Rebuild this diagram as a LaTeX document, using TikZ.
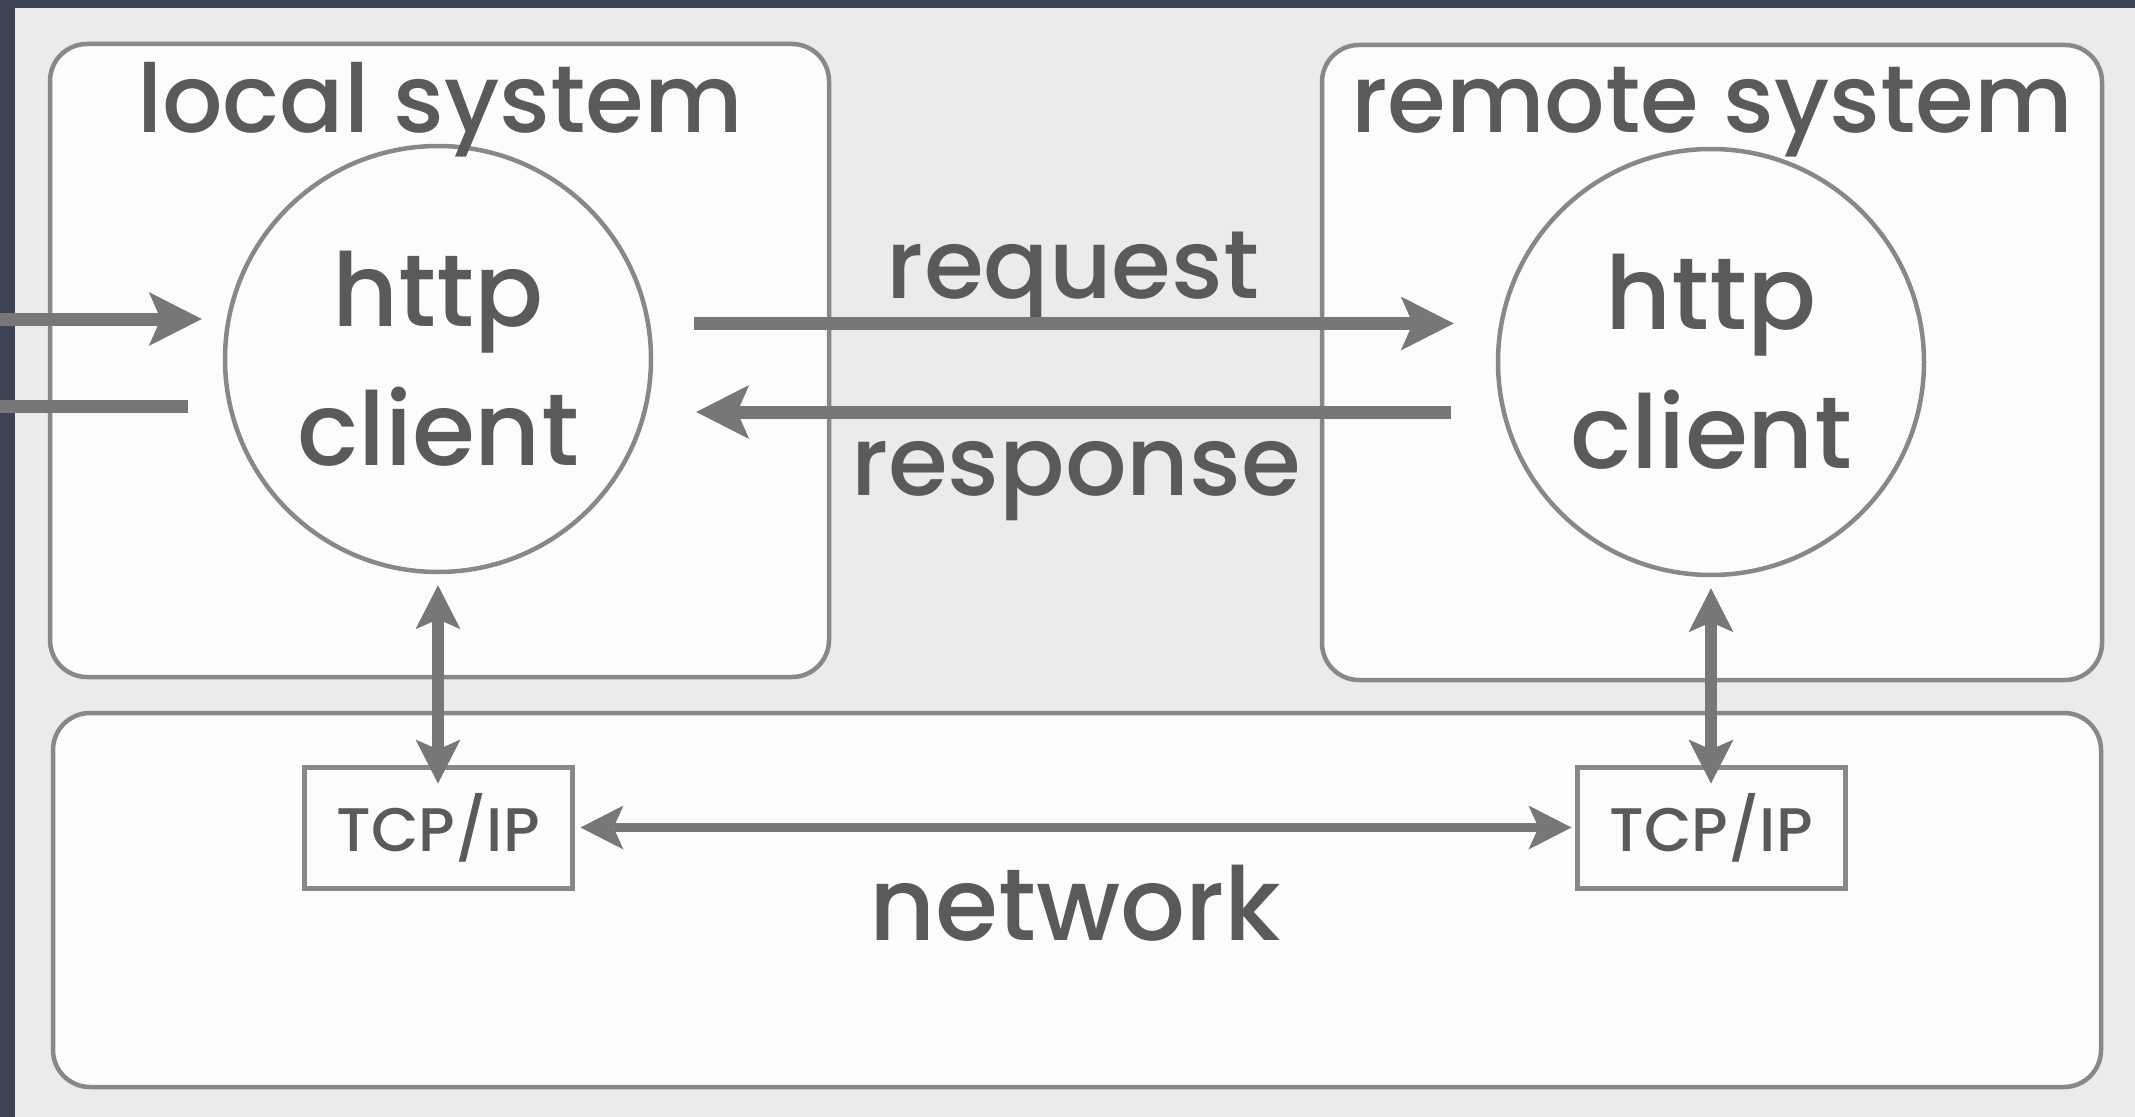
\documentclass[tikz,border=0pt]{standalone}
\usepackage{fontspec}
\setmainfont{Poppins Medium}
\usetikzlibrary{arrows.meta}

\definecolor{slate}{HTML}{3E4454}
\definecolor{panel}{HTML}{EBEBED}
\definecolor{boxfill}{HTML}{FCFCFC}
\definecolor{rim}{HTML}{888888}
\definecolor{wire}{HTML}{777777}
\definecolor{ink}{HTML}{5A5A5A}

\tikzset{
  sysbox/.style={draw=rim, line width=0.045cm, fill=boxfill, rounded corners=0.37cm, inner sep=0pt},
  hostcircle/.style={circle, draw=rim, line width=0.045cm, minimum size=4.26cm, inner sep=0pt,
    text=ink, align=center, font=\fontsize{29}{39.5}\selectfont},
  stackbox/.style={draw=rim, line width=0.05cm, minimum width=2.68cm, minimum height=1.21cm,
    inner sep=0pt, text=ink, font=\fontsize{17.5}{20}\selectfont},
  title/.style={anchor=base, inner sep=0pt, text=ink, font=\fontsize{27}{30}\selectfont},
  msg/.style={anchor=base, inner sep=0pt, text=ink, font=\fontsize{27.5}{32}\selectfont},
  bigtip/.style={-{Stealth[length=0.53cm, width=0.54cm, inset=0.12cm, line width=0pt]}},
  flow/.style={draw=wire, line width=0.13cm, bigtip},
  plainflow/.style={draw=wire, line width=0.13cm},
  stacklink/.style={draw=wire, line width=0.117cm,
    {Stealth[length=0.44cm, width=0.45cm, inset=0.1cm, line width=0pt]}-{Stealth[length=0.44cm, width=0.45cm, inset=0.1cm, line width=0pt]}},
  netlink/.style={draw=wire, line width=0.09cm,
    {Stealth[length=0.43cm, width=0.44cm, inset=0.1cm, line width=0pt]}-{Stealth[length=0.43cm, width=0.44cm, inset=0.1cm, line width=0pt]}}
}

\begin{document}
\begin{tikzpicture}[y=-1cm]
    \useasboundingbox (0,0) rectangle (21.35,11.17);
    \fill[slate] (0,0) rectangle (21.35,11.17);
    \fill[panel] (0.15,0.08) rectangle (21.35,11.17);

    \node[sysbox, minimum width=7.79cm, minimum height=6.33cm] (loc) at (4.395,3.605) {};
    \node[sysbox, minimum width=7.80cm, minimum height=6.35cm] (rem) at (17.12,3.625) {};
    \node[sysbox, minimum width=20.48cm, minimum height=3.74cm] (net) at (10.77,9.00) {};

    \node[hostcircle] (lc) at (4.38,3.59) {http\\client};
    \node[hostcircle] (rc) at (17.11,3.62) {http\\client};
    \node[stackbox] (lt) at (4.38,8.275) {TCP/IP};
    \node[stackbox] (rt) at (17.11,8.275) {TCP/IP};

    \node[title] (loctitle) at (4.40,1.32) {local system};
    \node[title] (remtitle) at (17.12,1.32) {remote system};
    \node[msg] (req) at (10.73,2.98) {request};
    \node[msg] (resp) at (10.76,4.95) {response};
    \node[msg, font=\fontsize{29}{32}\selectfont] (netlabel) at (10.75,9.40) {network};

    \coordinate (inwire) at (0,3.19);
    \coordinate (outwire) at (0,4.06);

    \draw[flow, shorten >=0.21cm] (inwire) -- (inwire -| lc.west);
    \draw[plainflow, shorten <=0.35cm] (outwire -| lc.west) -- (outwire);
    \draw[flow, shorten <=0.41cm, shorten >=0.42cm] ([yshift=0.355cm]lc.east) -- ([yshift=0.355cm]lc.east -| rc.west);
    \draw[flow, shorten <=0.45cm, shorten >=0.43cm] ([yshift=-0.53cm]lc.east -| rc.west) -- ([yshift=-0.53cm]lc.east);
    \draw[stacklink, shorten <=0.11cm, shorten >=-0.19cm] (lc.south) -- (lt.north);
    \draw[stacklink, shorten <=0.11cm, shorten >=-0.19cm] (rc.south) -- (rt.north);
    \draw[netlink, shorten <=0.06cm, shorten >=0.03cm] (lt.east) -- (rt.west);
\end{tikzpicture}
\end{document}
